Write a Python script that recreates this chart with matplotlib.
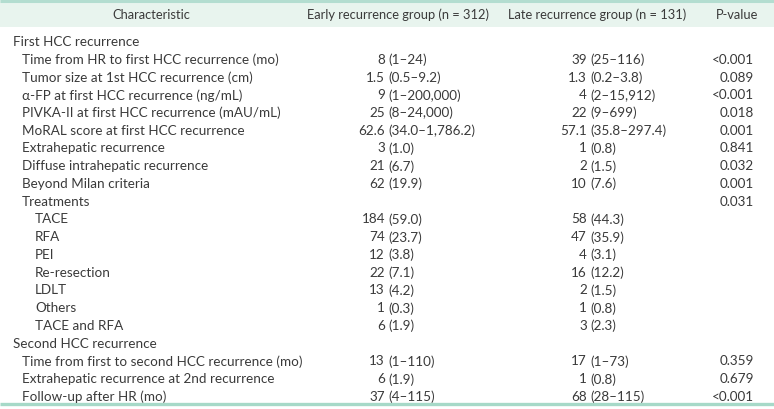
import matplotlib
matplotlib.use("Agg")
import matplotlib.pyplot as plt
from matplotlib.patches import Rectangle

plt.rcParams['font.family'] = ['Lato', 'DejaVu Sans']

headers = ["Characteristic", "Early recurrence group (n = 312)",
           "Late recurrence group (n = 131)", "P-value"]

labels = [
    "First HCC recurrence",
    "Time from HR to first HCC recurrence (mo)",
    "Tumor size at 1st HCC recurrence (cm)",
    "α-FP at first HCC recurrence (ng/mL)",
    "PIVKA-II at first HCC recurrence (mAU/mL)",
    "MoRAL score at first HCC recurrence",
    "Extrahepatic recurrence",
    "Diffuse intrahepatic recurrence",
    "Beyond Milan criteria",
    "Treatments",
    "TACE", "RFA", "PEI", "Re-resection", "LDLT", "Others", "TACE and RFA",
    "Second HCC recurrence",
    "Time from first to second HCC recurrence (mo)",
    "Extrahepatic recurrence at 2nd recurrence",
    "Follow-up after HR (mo)",
]
indent = [0, 1, 1, 1, 1, 1, 1, 1, 1, 1, 2, 2, 2, 2, 2, 2, 2, 0, 1, 1, 1]

early = ["", "8 (1–24)", "1.5 (0.5–9.2)", "9 (1–200,000)", "25 (8–24,000)",
         "62.6 (34.0–1,786.2)", "3 (1.0)", "21 (6.7)", "62 (19.9)", "",
         "184 (59.0)", "74 (23.7)", "12 (3.8)", "22 (7.1)", "13 (4.2)",
         "1 (0.3)", "6 (1.9)", "", "13 (1–110)", "6 (1.9)", "37 (4–115)"]
late = ["", "39 (25–116)", "1.3 (0.2–3.8)", "4 (2–15,912)", "22 (9–699)",
        "57.1 (35.8–297.4)", "1 (0.8)", "2 (1.5)", "10 (7.6)", "",
        "58 (44.3)", "47 (35.9)", "4 (3.1)", "16 (12.2)", "2 (1.5)",
        "1 (0.8)", "3 (2.3)", "", "17 (1–73)", "1 (0.8)", "68 (28–115)"]
pvals = ["", "<0.001", "0.089", "<0.001", "0.018", "0.001", "0.841", "0.032",
         "0.001", "0.031", "", "", "", "", "", "", "", "", "0.359", "0.679",
         "<0.001"]

W, H = 774, 410
fig = plt.figure(figsize=(W / 100, H / 100), dpi=100)
ax = fig.add_axes([0, 0, 1, 1])
ax.set_xlim(0, W)
ax.set_ylim(H, 0)
ax.axis('off')

txt = '#3a3a3a'
fs = 9.7
hfs = 9.3

# header band
ax.add_patch(Rectangle((0, 0), W, 28, facecolor='#e8f4ee', edgecolor='none'))
ax.plot([0, W], [1.5, 1.5], color='#b3ddd0', lw=2.2, solid_capstyle='butt')
ax.plot([0, W], [404.5, 404.5], color='#a6d9c8', lw=2.4, solid_capstyle='butt')

hx = [151, 398, 597, 737]
for x, h in zip(hx, headers):
    ax.text(x, 15, h, ha='center', va='center', fontsize=hfs, color=txt)

y0, dy = 42, 17.75
ind_x = [13, 22, 35]
split_e, split_l, p_right = 385, 587, 754
for i, lab in enumerate(labels):
    y = y0 + i * dy
    ax.text(ind_x[indent[i]], y, lab, ha='left', va='center', fontsize=fs, color=txt)
    for s, xs in ((early[i], split_e), (late[i], split_l)):
        if s:
            a, b = s.split(' (', 1)
            ax.text(xs, y, a, ha='right', va='center', fontsize=fs, color=txt)
            ax.text(xs + 3.5, y, '(' + b, ha='left', va='center', fontsize=fs, color=txt)
    if pvals[i]:
        ax.text(p_right, y, pvals[i], ha='right', va='center', fontsize=fs, color=txt)

fig.savefig('out.png', dpi=100)
